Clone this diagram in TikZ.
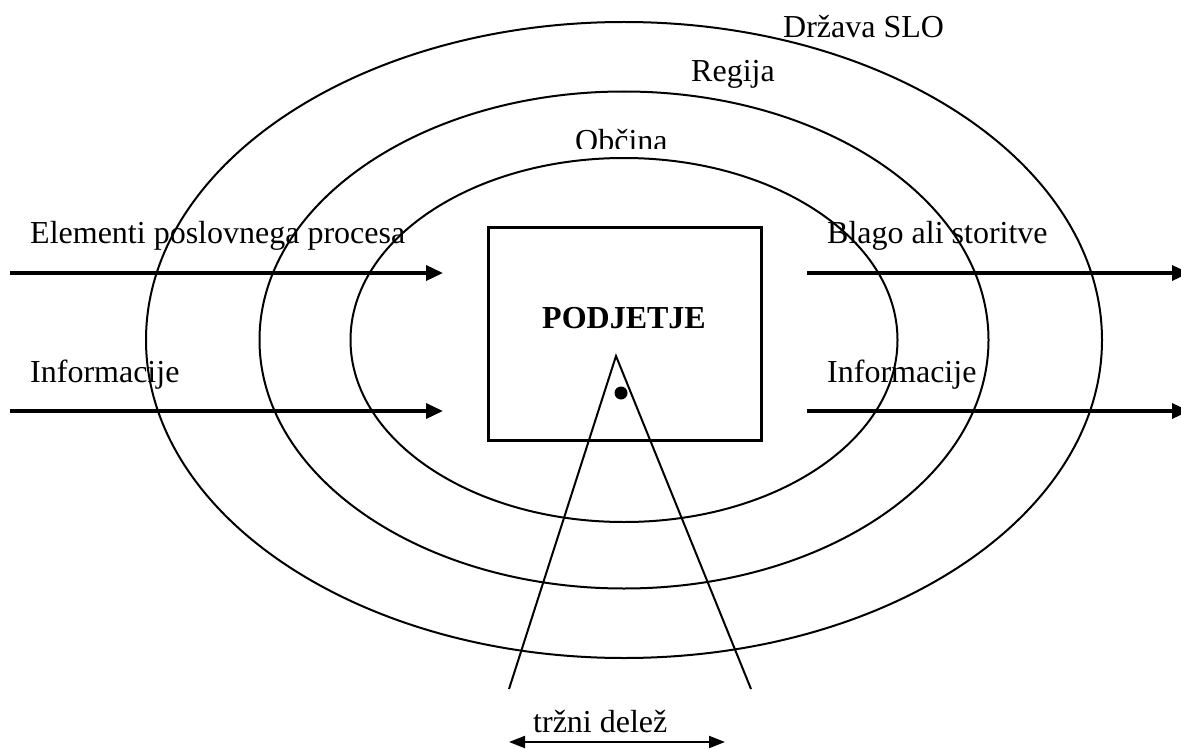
\documentclass[tikz,border=0pt]{standalone}
\usepackage{fontspec}
\setmainfont{Liberation Serif}
\usetikzlibrary{arrows.meta}
\begin{document}
\begin{tikzpicture}[x=1pt,y=-1pt,
  lbl/.style={inner sep=0pt, anchor=base west, font=\fontsize{32}{38}\selectfont},
  ring/.style={line width=2pt},
  flow/.style={line width=3.5pt, -{Triangle[length=17pt,width=15pt]}},
  edge/.style={line width=2pt},
  span/.style={line width=2pt, {Triangle[length=16pt,width=12pt]}-{Triangle[length=16pt,width=12pt]}}]
\useasboundingbox (0,0) rectangle (1181,749);

% market levels: state, region, municipality
\draw[ring] (624,340) ellipse [x radius=478pt, y radius=318pt];
\draw[ring] (624,340) ellipse [x radius=364.5pt, y radius=248.5pt];
\draw[ring] (624,340) ellipse [x radius=273.5pt, y radius=182pt];

\node[lbl] (drzava) at (783,38) {Država SLO};
\node[lbl] (regija) at (691,82) {Regija};
\begin{scope}
  \clip (0,0) rectangle (1181,149);
  \node[lbl] (obcina) at (575,152) {Občina};
\end{scope}

% the company
\node[draw, line width=3pt, minimum width=273pt, minimum height=213pt, inner sep=0pt]
  (firm) at (624.5,333.5) {};
\node[inner sep=0pt, anchor=base, font=\fontsize{32}{38}\selectfont\bfseries]
  (firmname) at (624,328) {PODJETJE};

% inputs
\coordinate (in1s) at (10,273);
\coordinate (in1e) at (443,273);
\coordinate (in2s) at (10,411);
\coordinate (in2e) at (443,411);
\draw[flow] (in1s) -- (in1e);
\draw[flow] (in2s) -- (in2e);
\node[lbl] (inlbl1) at (30,243) {Elementi poslovnega procesa};
\node[lbl] (inlbl2) at (30,382) {Informacije};

% outputs
\coordinate (out1s) at (807,273);
\coordinate (out1e) at (1189,273);
\coordinate (out2s) at (807,411);
\coordinate (out2e) at (1189,411);
\draw[flow] (out1s) -- (out1e);
\draw[flow] (out2s) -- (out2e);
\node[lbl] (outlbl1) at (827,243) {Blago ali storitve};
\node[lbl] (outlbl2) at (827,382) {Informacije};

% market share wedge
\coordinate (apex) at (616,356);
\coordinate (wl) at (509,689);
\coordinate (wr) at (751,689);
\draw[edge] (wl) -- (apex) -- (wr);
\fill (621,393) circle [radius=6.5pt];

\coordinate (sl) at (509,742);
\coordinate (sr) at (725,742);
\draw[span] (sl) -- (sr);
\node[lbl] (share) at (533,732) {tržni delež};
\end{tikzpicture}
\end{document}
